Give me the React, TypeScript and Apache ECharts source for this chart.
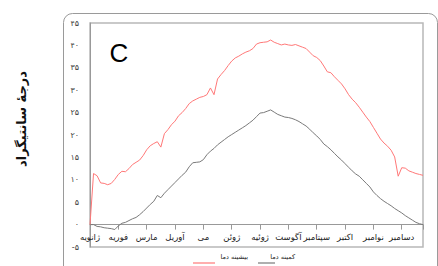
import React, { useEffect, useRef } from 'react';
import * as echarts from 'echarts';

// Month names (x-axis tick labels, one per month start)
const months = ['ژانویه', 'فوریه', 'مارس', 'آوریل', 'می', 'ژوئن', 'ژوئیه', 'آگوست', 'سپتامبر', 'اکتبر', 'نوامبر', 'دسامبر'];
const persianDigits = ['۰', '۱', '۲', '۳', '۴', '۵', '۶', '۷', '۸', '۹'];

// Sample spacing, in months
const step = 0.125;

// Maximum temperature (°C)
const maxTemp = [
  0, 11.4, 10.9, 9.3, 9.2, 8.9, 9.2, 10.1, 11.2, 11.9,
  11.8, 12.5, 13.4, 13.9, 14.4, 15.4, 16.7, 17.6, 18.1, 18.5,
  17.3, 20.3, 21.2, 22.3, 23.1, 24.3, 25.0, 25.9, 27.0, 27.6,
  28.0, 28.4, 28.6, 29.0, 30.5, 29.0, 32.5, 33.5, 34.4, 35.5,
  36.5, 37.2, 37.6, 38.1, 38.5, 38.8, 39.3, 40.3, 40.6, 40.7,
  40.8, 41.2, 40.7, 40.4, 40.1, 40.3, 40.1, 40.0, 40.2, 39.9,
  39.6, 39.3, 38.5, 37.7, 37.3, 36.6, 35.4, 34.1, 33.9, 33.0,
  32.2, 31.4, 30.3, 29.0, 28.0, 27.2, 26.2, 25.1, 24.0, 23.0,
  21.7, 20.4, 19.1, 18.2, 17.5, 16.6, 15.1, 10.8, 12.7, 12.6,
  12.0, 11.7, 11.4, 11.2, 11.0,
];

// Minimum temperature (°C)
const minTemp = [
  0.0, 0.0, -0.4, -0.5, -0.7, -0.8, -0.9, -1.1, -0.3, 0.3,
  0.5, 0.9, 1.3, 1.6, 2.2, 2.9, 3.7, 4.5, 5.2, 6.5,
  6.0, 7.0, 7.8, 8.6, 9.4, 10.2, 11.0, 11.7, 12.9, 13.8,
  13.9, 14.0, 14.5, 15.6, 16.4, 17.0, 17.8, 18.4, 19.0, 19.6,
  20.1, 20.6, 21.1, 21.6, 22.1, 22.7, 23.3, 24.1, 24.9, 25.0,
  25.3, 25.6, 25.1, 24.6, 24.3, 24.0, 23.9, 23.7, 23.4, 23.0,
  22.5, 22.0, 21.3, 20.5, 19.8, 19.0, 18.0, 17.4, 16.7, 15.9,
  15.1, 14.4, 13.6, 12.8, 12.0, 11.3, 10.8, 10.0, 9.2, 8.4,
  7.3, 6.5, 5.8, 5.2, 4.7, 4.2, 3.6, 3.1, 2.6, 2.0,
  1.5, 1.0, 0.5, 0.2, 0.0,
];

const seriesNames = ['بیشینه دما', 'کمینه دما'];
const yTitle = 'درجهٔ سانتیگراد';
const panelLabel = 'C';

const toFa = (s: string) => s.replace(/[0-9]/g, (d) => persianDigits[+d]);

const FA = 'DejaVu Sans';
const RED = '#ff7878';
const GRAY = '#7a7a7a';

export default function App() {
  const ref = useRef<HTMLDivElement>(null);

  useEffect(() => {
    if (!ref.current) return;
    const chart = echarts.init(ref.current, null, { renderer: 'svg' });
    const xMax = (maxTemp.length - 1) * step;
    const gridTop = 23;
    const gridBottom = 19;
    const plotH = 266 - gridTop - gridBottom;
    const yMin = -5;
    const yMax = 45;
    // lift the x axis from the grid bottom to the value 0 line
    const zeroOffset = -((0 - yMin) / (yMax - yMin)) * plotH;
    chart.setOption({
      animation: false,
      backgroundColor: '#ffffff',
      grid: {
        left: 90,
        right: 15,
        top: gridTop,
        bottom: gridBottom,
        show: true,
        borderColor: '#b8b8b8',
        borderWidth: 1.5,
        backgroundColor: 'transparent',
      },
      xAxis: {
        type: 'value',
        min: 0,
        max: xMax,
        interval: 1,
        offset: zeroOffset,
        splitLine: { show: false },
        axisLine: { show: true, onZero: false, lineStyle: { color: '#999', width: 1 } },
        axisTick: { show: true, length: 5, lineStyle: { color: '#999' } },
        axisLabel: {
          formatter: (v: number) => (Number.isInteger(v) && months[v] ? months[v] : ''),
          fontFamily: FA,
          fontSize: 8.5,
          color: '#222',
          margin: 8,
        },
      },
      yAxis: {
        type: 'value',
        min: yMin,
        max: yMax,
        interval: 5,
        splitLine: { show: false },
        axisLine: { show: true, lineStyle: { color: '#999', width: 1 } },
        axisTick: { show: false },
        axisLabel: {
          formatter: (v: number) => toFa(String(v)),
          fontFamily: FA,
          fontSize: 8,
          color: '#444',
          margin: 11,
        },
      },
      series: [
        {
          name: seriesNames[0],
          type: 'line',
          showSymbol: false,
          lineStyle: { color: RED, width: 1 },
          data: maxTemp.map((v, i) => [i * step, v]),
          z: 3,
        },
        {
          name: seriesNames[1],
          type: 'line',
          showSymbol: false,
          lineStyle: { color: GRAY, width: 1 },
          data: minTemp.map((v, i) => [i * step, v]),
          z: 2,
        },
      ],
      graphic: [
        {
          type: 'rect',
          shape: { x: 63.5, y: 13.5, width: 374, height: 262, r: 9 },
          style: { fill: 'none', stroke: '#9a9a9a', lineWidth: 1 },
          silent: true,
          z: 0,
        },
        {
          type: 'text',
          x: 21,
          y: 119,
          rotation: Math.PI / 2,
          style: {
            text: yTitle,
            fontFamily: FA,
            fontWeight: 'bold',
            fontSize: 13,
            fill: '#111',
            align: 'center',
            verticalAlign: 'middle',
          },
        },
        {
          type: 'text',
          x: 119,
          y: 53,
          style: {
            text: panelLabel,
            fontFamily: 'Liberation Sans',
            fontSize: 26,
            fill: '#000',
            align: 'center',
            verticalAlign: 'middle',
          },
        },
        {
          type: 'line',
          shape: { x1: 193, y1: 263, x2: 215, y2: 263 },
          style: { stroke: RED, lineWidth: 1.2 },
        },
        {
          type: 'text',
          x: 248,
          y: 257,
          style: {
            text: seriesNames[0],
            fontFamily: FA,
            fontSize: 6.5,
            fill: '#222',
            align: 'right',
            verticalAlign: 'middle',
          },
        },
        {
          type: 'line',
          shape: { x1: 258, y1: 263, x2: 275, y2: 263 },
          style: { stroke: GRAY, lineWidth: 1.2 },
        },
        {
          type: 'text',
          x: 295,
          y: 257,
          style: {
            text: seriesNames[1],
            fontFamily: FA,
            fontSize: 6.5,
            fill: '#222',
            align: 'right',
            verticalAlign: 'middle',
          },
        },
      ],
    });
    return () => chart.dispose();
  }, []);

  return (
    <div
      ref={ref}
      style={{ position: 'fixed', left: 0, top: 0, width: 438, height: 266, background: '#fff' }}
    />
  );
}
